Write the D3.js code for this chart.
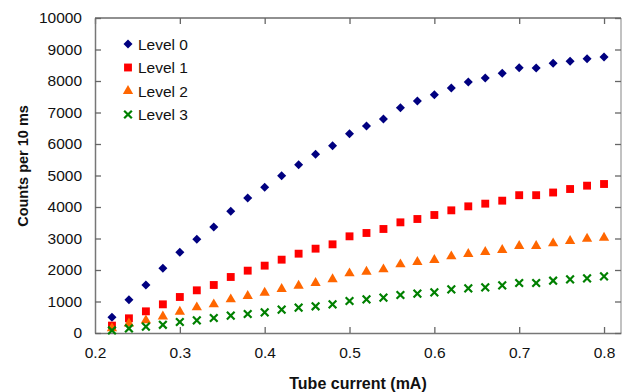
<!DOCTYPE html>
<html><head><meta charset="utf-8">
<script src="https://cdn.jsdelivr.net/npm/d3@7"></script>
<style>body{margin:0;background:#fff}svg{display:block;font-family:"Liberation Sans",Arial,sans-serif}</style>
</head><body><svg id="c" width="624" height="392"></svg>
<script>
const current = [0.22,0.24,0.26,0.28,0.30,0.32,0.34,0.36,0.38,0.40,0.42,0.44,0.46,0.48,0.50,0.52,0.54,0.56,0.58,0.60,0.62,0.64,0.66,0.68,0.70,0.72,0.74,0.76,0.78,0.80];
const level0 = [500,1057,1524,2053,2561,2974,3365,3862,4286,4625,4994,5343,5673,5946,6327,6571,6794,7153,7365,7565,7778,7968,8095,8244,8423,8413,8561,8624,8709,8762];
const level1 = [235,466,688,910,1143,1355,1524,1778,1979,2138,2328,2518,2677,2815,3069,3175,3302,3513,3619,3746,3894,4021,4106,4201,4375,4375,4460,4571,4677,4730];
const level2 = [150,300,400,525,677,815,910,1069,1175,1280,1397,1503,1590,1704,1894,1947,2021,2180,2254,2317,2434,2508,2571,2635,2762,2762,2846,2920,2994,3026];
const level3 = [80,145,201,260,349,402,476,550,603,656,741,804,847,910,1016,1069,1122,1206,1249,1291,1386,1418,1450,1513,1587,1587,1661,1704,1735,1799];
const seriesNames = ["Level 0","Level 1","Level 2","Level 3"];
const seriesColors = ["#000080","#FF0000","#FF6600","#008000"];
const xTicks = [0.2,0.3,0.4,0.5,0.6,0.7,0.8];
const yTicks = [0,1000,2000,3000,4000,5000,6000,7000,8000,9000,10000];
const xTitle = "Tube current (mA)";
const yTitle = "Counts per 10 ms";

const svg = d3.select("#c");
const L=95,R=621,T=18,B=333;
const x = d3.scaleLinear().domain([0.2,0.82]).range([L,R]);
const y = d3.scaleLinear().domain([0,10000]).range([B,T]);

// frame
svg.append("line").attr("x1",L).attr("x2",R).attr("y1",T).attr("y2",T).attr("stroke","#222").attr("stroke-width",1.2);
svg.append("line").attr("x1",R).attr("x2",R).attr("y1",T).attr("y2",B).attr("stroke","#999").attr("stroke-width",1.2);

const xb = svg.append("g").attr("transform",`translate(0,${B})`)
  .call(d3.axisBottom(x).tickValues(xTicks).tickSizeInner(-6).tickSizeOuter(0).tickPadding(14).tickFormat(d3.format(".1f")));
const xt = svg.append("g").attr("transform",`translate(0,${T})`)
  .call(d3.axisTop(x).tickValues(xTicks).tickSizeInner(-6).tickSizeOuter(0).tickFormat(""));
const yl = svg.append("g").attr("transform",`translate(${L},0)`)
  .call(d3.axisLeft(y).tickValues(yTicks).tickSizeInner(-6).tickSizeOuter(0).tickPadding(13).tickFormat(d3.format("d")));
const yr = svg.append("g").attr("transform",`translate(${R},0)`)
  .call(d3.axisRight(y).tickValues(yTicks).tickSizeInner(-6).tickSizeOuter(0).tickFormat(""));
xt.select(".domain").remove(); yr.select(".domain").remove();
[xb,yl].forEach(g=>{g.select(".domain").attr("stroke","#777").attr("stroke-width",1.5);});
[xb,xt,yl,yr].forEach(g=>{g.selectAll(".tick line").attr("stroke","#666").attr("stroke-width",1.3);
  g.selectAll("text").attr("font-size","15.5px").attr("fill","#111").attr("font-family","Liberation Sans, Arial, sans-serif");});
xb.selectAll(".tick line").filter((d,i)=>i===0).remove();
xb.selectAll(".tick text").attr("dy","0.71em");

svg.append("text").attr("x",(L+R)/2).attr("y",389).attr("text-anchor","middle")
  .attr("font-size","16px").attr("font-weight","bold").attr("fill","#111").text(xTitle);
svg.append("text").attr("transform",`translate(28,166) rotate(-90)`).attr("text-anchor","middle")
  .attr("font-size","14.5px").attr("font-weight","bold").attr("fill","#111").text(yTitle);

const data = [level0,level1,level2,level3];
const symbols = [
  d3.symbol().type(d3.symbolDiamond2).size(52),
  d3.symbol().type(d3.symbolSquare).size(62),
  d3.symbol().type(d3.symbolTriangle).size(46),
  d3.symbol().type(d3.symbolTimes).size(40)
];
function drawMark(g,i){
  if(i===3){
    g.append("path").attr("d",symbols[i]()).attr("fill","none").attr("stroke",seriesColors[i]).attr("stroke-width",2.2);
  } else {
    g.append("path").attr("d",symbols[i]()).attr("fill",seriesColors[i]);
  }
}
data.forEach((vals,i)=>{
  const g = svg.append("g");
  vals.forEach((v,j)=>{
    const m = g.append("g").attr("transform",`translate(${x(current[j])},${y(v)})`);
    drawMark(m,i);
  });
});

// legend
const legY = [44,67.5,91,114.5];
seriesNames.forEach((n,i)=>{
  const m = svg.append("g").attr("transform",`translate(128,${legY[i]})`);
  drawMark(m,i);
  svg.append("text").attr("x",138).attr("y",legY[i]).attr("dy","0.36em")
    .attr("font-size","15.5px").attr("fill","#111").text(n);
});
</script></body></html>
